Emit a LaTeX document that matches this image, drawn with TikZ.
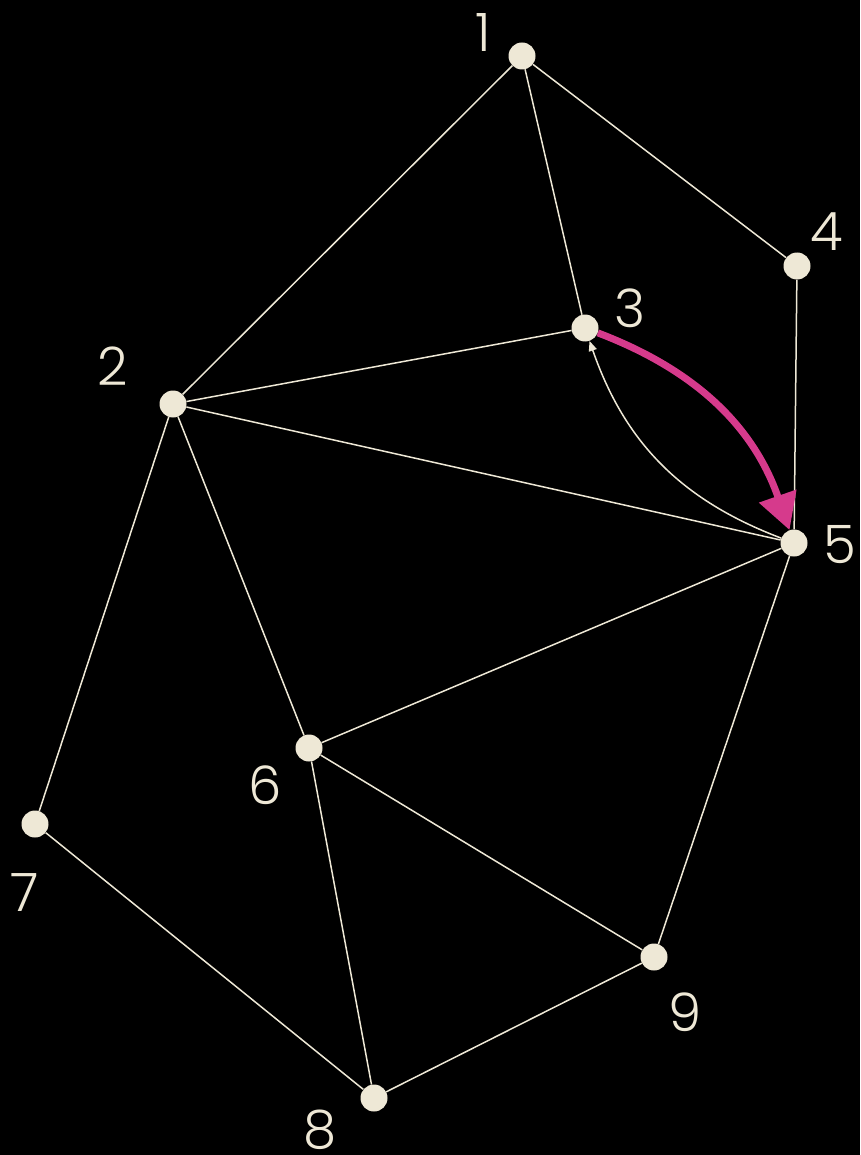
\documentclass[tikz,border=0pt]{standalone}
\usepackage{fontspec}
\setmainfont{Poppins Light}
\usetikzlibrary{arrows.meta, positioning}
\definecolor{cream}{HTML}{EEE8D6}
\definecolor{hotpink}{HTML}{D63A8C}

\begin{document}
\begin{tikzpicture}[x=1pt, y=-1pt, font=\fontsize{53}{53}\selectfont]
						\fill[black] (0,0) rectangle (860,1155);
						\useasboundingbox (0,0) rectangle (860,1155);
						\tikzset{vertex/.style={circle, fill=cream, inner sep=0pt, minimum size=27pt},
							num/.style={text=cream, inner sep=0pt},
							edge/.style={draw=cream, line width=1.5pt}}
						\node[vertex] (v1) at (522,56) {};
						\node[vertex] (v2) at (173,404) {};
						\node[vertex] (v3) at (585,328) {};
						\node[vertex] (v4) at (797,266) {};
						\node[vertex] (v5) at (794,543) {};
						\node[vertex] (v6) at (309,748) {};
						\node[vertex] (v7) at (35,824) {};
						\node[vertex] (v8) at (374,1098) {};
						\node[vertex] (v9) at (654,957) {};
						\node[num] (l1) at (483,33) {1};
						\node[num] (l2) at (113,366) {2};
						\node[num] (l3) at (630,308) {3};
						\node[num] (l4) at (827,232) {4};
						\node[num] (l5) at (840,545) {5};
						\node[num] (l6) at (265,785) {6};
						\node[num] (l7) at (25,893) {7};
						\node[num] (l8) at (320,1130) {8};
						\node[num] (l9) at (685,1012) {9};
						\foreach \a/\b in {1/2, 1/3, 1/4, 2/3, 2/5, 2/6, 2/7, 4/5, 5/6, 5/9, 6/8, 6/9, 7/8, 8/9}
						\draw[edge] (v\a) -- (v\b);
						\draw[edge, -{Triangle[length=10pt, width=8pt]}] (v5) to[bend left=25] (v3);
						\draw[hotpink, line width=7pt, -{Triangle[length=36pt, width=38pt]}] (v3) to[bend left=25] (v5);
					\end{tikzpicture}
\end{document}
